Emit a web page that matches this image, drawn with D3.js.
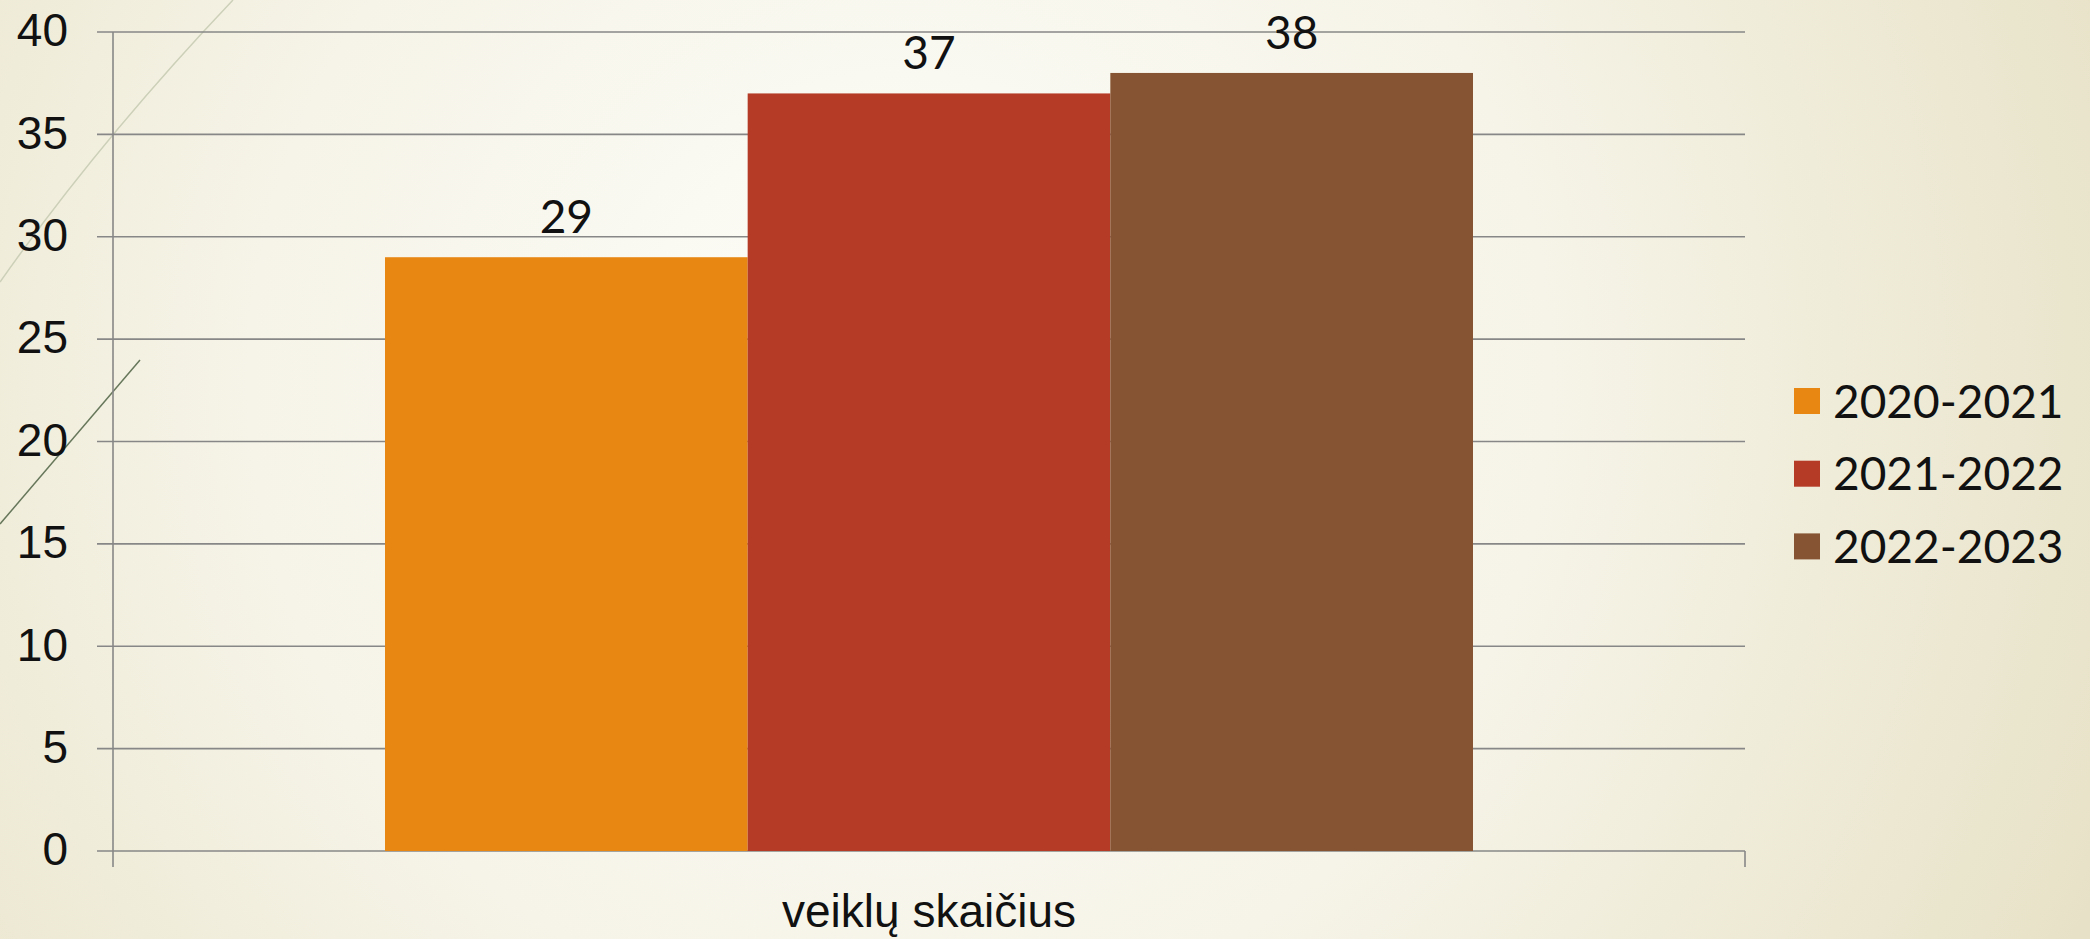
<!DOCTYPE html>
<html>
<head>
<meta charset="utf-8">
<script src="https://cdn.jsdelivr.net/npm/d3@7"></script>
<style>
  html, body { margin: 0; padding: 0; overflow: hidden; }
  svg { display: block; font-family: Lato, 'Liberation Sans', sans-serif; }
</style>
</head>
<body>
<div id="chart"></div>
<script>
const category = 'veiklų skaičius'
const seriesNames = ['2020-2021', '2021-2022', '2022-2023']
const seriesValues = [29, 37, 38]
const seriesColors = ['#e88712', '#b53b27', '#865432']
const yTicks = [0, 5, 10, 15, 20, 25, 30, 35, 40]

const width = 2090
const height = 939
const margin = {top: 32, right: 345, bottom: 88, left: 113}

const svg = d3.select('#chart')
  .append('svg')
  .attr('width', width)
  .attr('height', height)

// slide background
const defs = svg.append('defs')
const bg = defs.append('radialGradient')
  .attr('id', 'bg')
  .attr('gradientUnits', 'userSpaceOnUse')
  .attr('cx', 900).attr('cy', 380).attr('r', 1300)
bg.append('stop').attr('offset', '0%').attr('stop-color', '#fdfdf9')
bg.append('stop').attr('offset', '50%').attr('stop-color', '#f6f4e8')
bg.append('stop').attr('offset', '100%').attr('stop-color', '#e7e2c7')

svg.append('rect')
  .attr('width', width)
  .attr('height', height)
  .attr('fill', 'url(#bg)')

// decorative strokes in the corner
svg.append('path')
  .attr('d', 'M233,0 Q100,140 0,282')
  .attr('fill', 'none')
  .attr('stroke', '#cdd0b8')
  .attr('stroke-width', 1.5)
svg.append('path')
  .attr('d', 'M140,360 L0,524')
  .attr('fill', 'none')
  .attr('stroke', '#66775a')
  .attr('stroke-width', 1.5)

const innerW = width - margin.left - margin.right
const innerH = height - margin.top - margin.bottom

const g = svg.append('g')
  .attr('transform', `translate(${margin.left},${margin.top})`)

const y = d3.scaleLinear()
  .domain([0, 40])
  .range([innerH, 0])

const x0 = d3.scaleBand()
  .domain([category])
  .range([0, innerW])
  .paddingInner(0)
  .paddingOuter(0)

// gap width 150% of one bar
const barW = x0.bandwidth() / (seriesNames.length + 1.5)
const x1 = d3.scaleBand()
  .domain(seriesNames)
  .range([barW * 0.75, barW * 0.75 + barW * seriesNames.length])

// gridlines
g.append('g')
  .selectAll('line')
  .data(yTicks)
  .join('line')
  .attr('x1', -16)
  .attr('x2', innerW)
  .attr('y1', d => y(d))
  .attr('y2', d => y(d))
  .attr('stroke', '#878787')
  .attr('stroke-width', 1.6)

// y axis
const yAxis = g.append('g')
  .call(d3.axisLeft(y).tickValues(yTicks).tickSize(0).tickPadding(45))
yAxis.select('.domain').remove()
yAxis.selectAll('text')
  .attr('font-size', 46)
  .attr('fill', '#111')
  .attr('dy', '0.3em')

g.append('line')
  .attr('x1', 0).attr('x2', 0)
  .attr('y1', 0).attr('y2', innerH + 16)
  .attr('stroke', '#878787')
  .attr('stroke-width', 1.6)

// x axis
const xAxis = g.append('g')
  .attr('transform', `translate(0,${innerH})`)
  .call(d3.axisBottom(x0).tickSize(0).tickPadding(43))
xAxis.select('.domain').remove()
xAxis.selectAll('text')
  .attr('font-size', 46)
  .attr('fill', '#111')

g.append('line')
  .attr('x1', innerW).attr('x2', innerW)
  .attr('y1', innerH).attr('y2', innerH + 16)
  .attr('stroke', '#878787')
  .attr('stroke-width', 1.6)

// bars
const bars = g.append('g')
  .attr('transform', `translate(${x0(category)},0)`)

bars.selectAll('rect')
  .data(seriesNames)
  .join('rect')
  .attr('x', d => x1(d))
  .attr('width', x1.bandwidth())
  .attr('y', (d, i) => y(seriesValues[i]))
  .attr('height', (d, i) => innerH - y(seriesValues[i]))
  .attr('fill', (d, i) => seriesColors[i])

bars.selectAll('text')
  .data(seriesNames)
  .join('text')
  .attr('x', d => x1(d) + x1.bandwidth() / 2)
  .attr('y', (d, i) => y(seriesValues[i]) - 24)
  .attr('text-anchor', 'middle')
  .attr('font-size', 46)
  .attr('fill', '#111')
  .text((d, i) => seriesValues[i])

// legend
const legend = svg.append('g')
  .attr('transform', 'translate(1794,388)')

const item = legend.selectAll('g')
  .data(seriesNames)
  .join('g')
  .attr('transform', (d, i) => `translate(0,${i * 72.7})`)

item.append('rect')
  .attr('width', 26)
  .attr('height', 26)
  .attr('fill', (d, i) => seriesColors[i])

item.append('text')
  .attr('x', 39)
  .attr('y', 13)
  .attr('dy', '0.36em')
  .attr('font-size', 46)
  .attr('fill', '#111')
  .text(d => d)
</script>
</body>
</html>
